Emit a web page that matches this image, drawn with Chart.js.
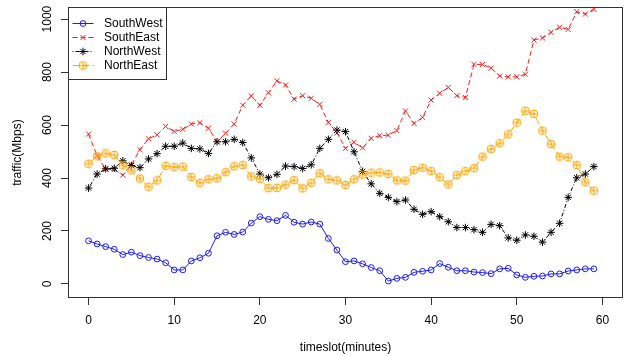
<!DOCTYPE html>
<html>
<head>
<meta charset="utf-8">
<script src="https://cdn.jsdelivr.net/npm/chart.js@4.4.1/dist/chart.umd.min.js"></script>
<style>
  html, body { margin: 0; padding: 0; background: #fff; }
  canvas { display: block; }
</style>
</head>
<body>
<canvas id="c" width="628" height="356"></canvas>
<script>
// Traffic per region, one value per one-minute timeslot.
const timeslots = [0,1,2,3,4,5,6,7,8,9,10,11,12,13,14,15,16,17,18,19,
                   20,21,22,23,24,25,26,27,28,29,30,31,32,33,34,35,36,37,38,39,
                   40,41,42,43,44,45,46,47,48,49,50,51,52,53,54,55,56,57,58,59];

const southWest = [163,151,141,131,111,120,107,100,94,80,
                   53,53,87,99,116,182,195,187,196,230,
                   254,244,239,259,233,226,234,226,172,128,
                   84,87,76,62,50,11,21,25,44,48,
                   53,77,63,50,50,45,43,39,57,59,
                   34,25,29,30,38,38,49,53,57,57];

const southEast = [566,484,433,432,411,450,507,548,563,595,
                   576,584,604,609,588,537,569,604,675,710,
                   675,722,767,751,698,711,701,678,610,570,
                   512,535,514,550,560,562,579,653,606,629,
                   694,720,742,711,704,829,829,815,785,782,
                   782,792,921,929,950,969,961,1028,1019,1037];

const northWest = [362,415,435,437,465,447,439,472,492,520,
                   520,532,512,510,493,537,537,546,534,476,
                   415,401,414,445,443,436,450,512,546,581,
                   575,499,425,378,342,327,311,317,282,263,
                   273,254,235,213,213,205,195,225,220,174,
                   165,185,180,158,195,229,327,401,415,443];

const northEast = [454,482,493,487,448,429,398,367,391,446,
                   441,443,404,382,395,399,422,444,449,406,
                   397,362,363,375,392,361,382,418,395,391,
                   374,395,413,420,421,415,391,390,430,439,
                   426,403,376,411,426,437,481,510,531,565,
                   609,654,642,579,528,481,478,449,384,352];

const xTicks = [0,10,20,30,40,50,60];
const yTicks = [0,200,400,600,800,1000];

const FONT = '"Liberation Sans", Arial, Helvetica, sans-serif';
Chart.defaults.font.family = FONT;
Chart.defaults.font.size = 12;
Chart.defaults.color = '#000';

const toPoints = vals => vals.map((v, i) => ({ x: timeslots[i], y: v }));

// Circle with a plus inside, used as the NorthEast marker.
function circlePlus(color) {
  const s = 10, m = s / 2, r = 3.9;
  const c = document.createElement('canvas');
  c.width = s; c.height = s;
  const g = c.getContext('2d');
  g.strokeStyle = color;
  g.lineWidth = 1;
  g.beginPath(); g.arc(m, m, r, 0, Math.PI * 2); g.stroke();
  g.beginPath();
  g.moveTo(m, m - r); g.lineTo(m, m + r);
  g.moveTo(m - r, m); g.lineTo(m + r, m);
  g.stroke();
  return c;
}

const BLUE = '#1a1aff', RED = '#ff1a1a', BLACK = '#000000', ORANGE = '#ffa500';

const datasets = [
  { label: 'SouthWest', data: toPoints(southWest), order: 4,
    borderColor: BLUE, borderWidth: 1, borderDash: [],
    pointStyle: 'circle', pointRadius: 2.9, pointBorderWidth: 1,
    pointBorderColor: BLUE, pointBackgroundColor: 'rgba(0,0,0,0)' },
  { label: 'SouthEast', data: toPoints(southEast), order: 3,
    borderColor: RED, borderWidth: 1, borderDash: [5, 3],
    pointStyle: 'crossRot', pointRadius: 3.6, pointBorderWidth: 1,
    pointBorderColor: RED, pointBackgroundColor: RED },
  { label: 'NorthWest', data: toPoints(northWest), order: 2,
    borderColor: BLACK, borderWidth: 1, borderDash: [1, 2, 4, 2],
    pointStyle: 'star', pointRadius: 3.8, pointBorderWidth: 1,
    pointBorderColor: BLACK, pointBackgroundColor: BLACK },
  { label: 'NorthEast', data: toPoints(northEast), order: 1,
    borderColor: ORANGE, borderWidth: 1, borderDash: [7, 3],
    pointStyle: circlePlus(ORANGE), pointRadius: 3.9, pointBorderWidth: 1,
    pointBorderColor: ORANGE, pointBackgroundColor: 'rgba(0,0,0,0)' }
];

// Plot frame and the boxed legend in the top-left corner.
const frameAndLegend = {
  id: 'frameAndLegend',
  afterDatasetsDraw(chart) {
    const { ctx, chartArea: a } = chart;
    ctx.save();
    const L = { x: Math.round(a.left) + 0.5, y: Math.round(a.top) + 0.5, w: 98, h: 72 };
    ctx.fillStyle = '#fff';
    ctx.fillRect(L.x, L.y, L.w, L.h);
    ctx.strokeStyle = '#333';
    ctx.lineWidth = 1;
    ctx.strokeRect(L.x, L.y, L.w, L.h);
    chart.data.datasets.forEach((ds, i) => {
      const y = Math.round(a.top) + 16 + i * 14;
      ctx.strokeStyle = ds.borderColor;
      ctx.lineWidth = 1;
      ctx.setLineDash(ds.borderDash || []);
      ctx.beginPath();
      ctx.moveTo(L.x + 4, y + 0.5);
      ctx.lineTo(L.x + 25, y + 0.5);
      ctx.stroke();
      ctx.setLineDash([]);
      ctx.fillStyle = ds.pointBackgroundColor;
      ctx.strokeStyle = ds.pointBorderColor;
      Chart.helpers.drawPoint(ctx, {
        pointStyle: ds.pointStyle, radius: ds.pointRadius, rotation: 0, borderWidth: 1
      }, L.x + 14.5, y + 0.5);
      ctx.fillStyle = '#000';
      ctx.font = '12px ' + FONT;
      ctx.textAlign = 'left';
      ctx.textBaseline = 'middle';
      ctx.fillText(ds.label, L.x + 35.5, y + 1);
    });
    ctx.restore();
  },
  afterDraw(chart) {
    const { ctx, chartArea: a } = chart;
    ctx.save();
    ctx.strokeStyle = '#333';
    ctx.lineWidth = 1;
    ctx.strokeRect(Math.round(a.left) + 0.5, Math.round(a.top) + 0.5,
                   Math.round(a.right - a.left) - 1, Math.round(a.bottom - a.top) - 1);
    ctx.restore();
  }
};

new Chart(document.getElementById('c'), {
  type: 'line',
  data: { datasets },
  options: {
    responsive: false,
    devicePixelRatio: 1,
    animation: false,
    events: [],
    layout: { padding: { left: 0, right: 4, top: 7, bottom: 0 } },
    elements: { line: { tension: 0, fill: false } },
    plugins: { legend: { display: false }, tooltip: { enabled: false } },
    scales: {
      x: {
        type: 'linear', min: -2.4, max: 62.4,
        afterBuildTicks: s => { s.ticks = xTicks.map(v => ({ value: v })); },
        afterFit: s => { s.height = 58; },
        border: { display: false },
        grid: { drawOnChartArea: false, drawTicks: true, tickLength: 7, color: '#333' },
        ticks: { padding: 8, minRotation: 0, maxRotation: 0, autoSkip: false,
                 color: '#000', callback: v => String(v) },
        title: { display: true, text: 'timeslot(minutes)', color: '#000',
                 padding: { top: 0, bottom: 1 } }
      },
      y: {
        type: 'linear', min: -53, max: 1045,
        afterBuildTicks: s => { s.ticks = yTicks.map(v => ({ value: v })); },
        afterFit: s => { s.width = 68; },
        border: { display: false },
        grid: { drawOnChartArea: false, drawTicks: true, tickLength: 7, color: '#333' },
        ticks: { minRotation: 90, maxRotation: 90, crossAlign: 'center', padding: 0,
                 autoSkip: false, color: '#000', callback: v => String(v) },
        title: { display: true, text: 'traffic(Mbps)', color: '#000',
                 padding: { top: 10, bottom: 0 } }
      }
    }
  },
  plugins: [frameAndLegend]
});
</script>
</body>
</html>
